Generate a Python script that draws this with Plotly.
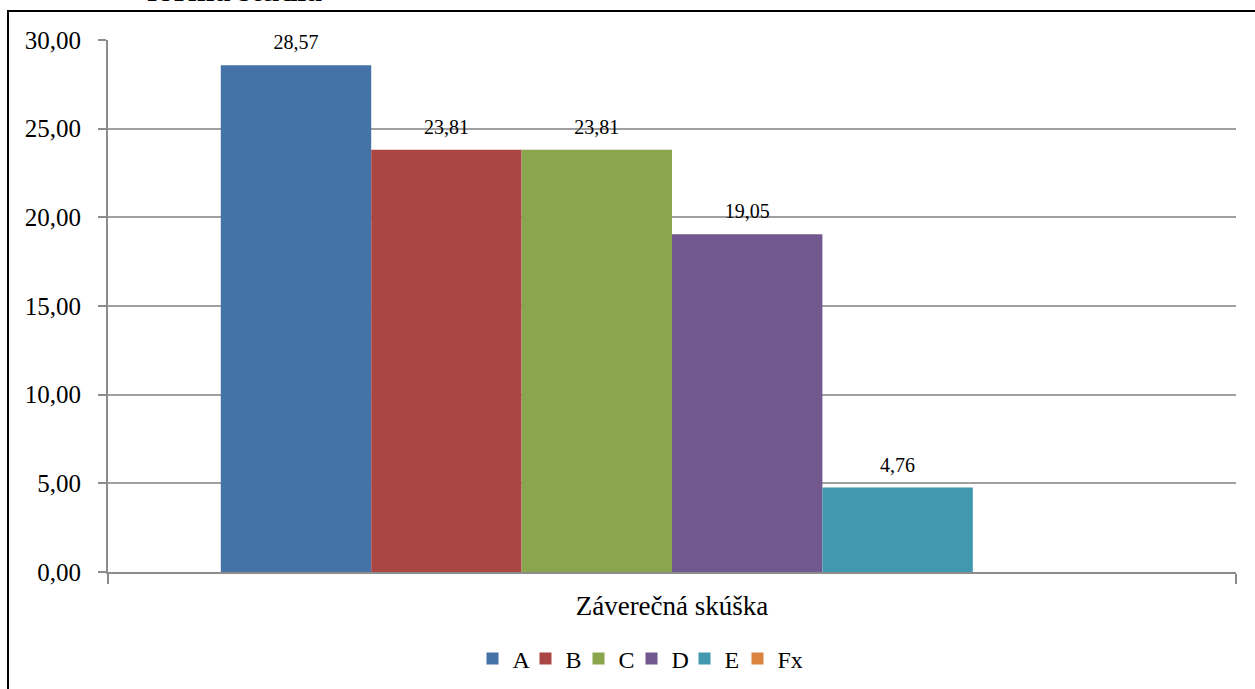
import plotly.graph_objects as go

# ---- data ----
category = ["Záverečná skúška"]
series_names = ["A", "B", "C", "D", "E", "Fx"]
series_values = [28.57, 23.81, 23.81, 19.05, 4.76, 0.0]
series_colors = ["#4572A7", "#AA4643", "#89A54E", "#71588F", "#4198AF", "#DB843D"]
y_ticks = [0, 5, 10, 15, 20, 25, 30]
title_text = "forma štúdia"

FONT = "Liberation Serif, Times New Roman, serif"

fig = go.Figure()
for name, val, col in zip(series_names, series_values, series_colors):
    fig.add_trace(go.Bar(
        name=name, x=category, y=[val], marker=dict(color=col, line=dict(width=0)),
        hoverinfo="skip",
    ))

# value labels, drawn by grouped scatter traces that line up with the bars
for name, val in zip(series_names, series_values):
    label = f"{val:.2f}".replace(".", ",") if val > 0 else ""
    fig.add_trace(go.Scatter(
        x=category, y=[val], text=[label], mode="markers+text",
        textposition="top center", cliponaxis=False, showlegend=False,
        marker=dict(size=16, opacity=0), hoverinfo="skip",
        textfont=dict(family=FONT, size=20, color="#000000"),
    ))

# invisible legend spacer (on its own hidden axes so it does not join the groups)
fig.add_trace(go.Scatter(
    x=[None], y=[None], name=" ", mode="lines", line=dict(color="rgba(0,0,0,0)", width=0),
    xaxis="x2", yaxis="y2", showlegend=True, hoverinfo="skip",
))

W, H = 1255, 689
L, R, T, B = 108, 19, 40, 117
pw, ph = W - L - R, H - T - B

fig.update_layout(
    width=W, height=H,
    margin=dict(l=L, r=R, t=T, b=B, pad=0, autoexpand=False),
    paper_bgcolor="white", plot_bgcolor="white",
    barmode="group", bargap=0.2, bargroupgap=0,
    scattermode="group", scattergap=0.2,
    separators=",.",
    font=dict(family=FONT, size=24, color="#000000"),
    showlegend=True,
    legend=dict(
        orientation="h", x=(472.5 - L) / pw, xanchor="left",
        y=(T + ph - 659) / ph, yanchor="middle",
        font=dict(family=FONT, size=24), itemwidth=30, entrywidth=8,
        bgcolor="rgba(0,0,0,0)", traceorder="normal",
    ),
    xaxis=dict(
        type="category", tickson="boundaries", ticks="outside", ticklen=10,
        tickcolor="#8C8C8C", tickwidth=2, showline=True, linecolor="#8C8C8C",
        linewidth=2, showgrid=False, ticklabelstandoff=9,
        tickfont=dict(family=FONT, size=27),
    ),
    yaxis=dict(
        range=[0, 30], tickvals=y_ticks, tickformat=".2f", ticks="outside",
        ticklen=8, tickcolor="#8C8C8C", tickwidth=2, showline=True,
        linecolor="#8C8C8C", linewidth=2, showgrid=True, gridcolor="#A0A0A0",
        gridwidth=2, zeroline=False, ticklabelstandoff=12,
        tickfont=dict(family=FONT, size=25),
    ),
    xaxis2=dict(overlaying="x", visible=False, range=[0, 1]),
    yaxis2=dict(overlaying="y", visible=False, range=[0, 1]),
    shapes=[dict(
        type="rect", xref="paper", yref="paper",
        x0=(8 - L) / pw, x1=1.2, y0=-0.5, y1=1 + (T - 11) / ph,
        line=dict(color="#000000", width=2), fillcolor="rgba(0,0,0,0)", layer="below",
    )],
    annotations=[dict(
        text="<b>" + title_text + "</b>", xref="paper", yref="paper",
        x=(234.5 - L) / pw, xanchor="center", y=1 + (T - 10) / ph, yanchor="bottom",
        showarrow=False, font=dict(family=FONT, size=32, color="#000000"),
    )],
)

fig.write_html(
    "out.html",
    config={"displayModeBar": False, "staticPlot": True},
    post_script="document.body.style.margin='0';document.body.style.overflow='hidden';",
)
